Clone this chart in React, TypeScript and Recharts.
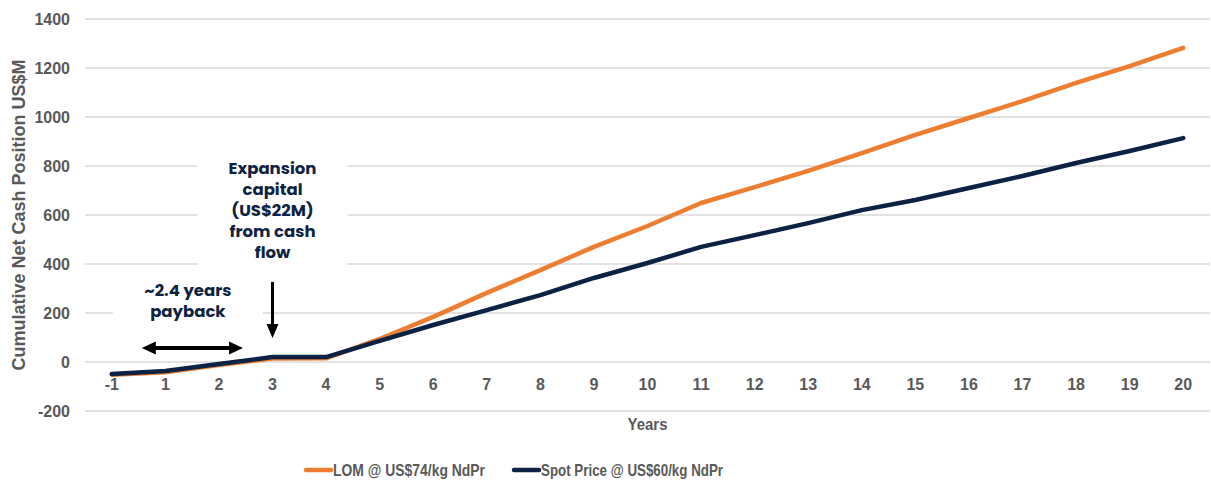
import React from "react";
import {
  LineChart,
  Line,
  XAxis,
  YAxis,
  CartesianGrid,
  Legend,
  ReferenceLine,
  ReferenceDot,
  Label,
} from "recharts";

const years = ["-1", "1", "2", "3", "4", "5", "6", "7", "8", "9", "10", "11", "12", "13", "14", "15", "16", "17", "18", "19", "20"];
const lomValues = [-52, -42, -12, 14, 15, 94, 184, 282, 375, 470, 555, 649, 714, 780, 853, 927, 996, 1065, 1139, 1208, 1282];
const spotValues = [-49, -37, -8, 20, 20, 86, 151, 212, 273, 343, 404, 470, 518, 567, 620, 661, 710, 759, 812, 861, 914];
const yTicks = [-200, 0, 200, 400, 600, 800, 1000, 1200, 1400];

const LOM_NAME = "LOM @ US$74/kg NdPr";
const SPOT_NAME = "Spot Price @ US$60/kg NdPr";
const ORANGE = "#ED7D31";
const NAVY = "#0B2244";
const GRAY = "#595959";
const ANNOT = "#0E2341";

const data = years.map((y, i) => ({ idx: i, year: y, lom: lomValues[i], spot: spotValues[i] }));
const xTicks = years.map((_, i) => i);

const tickFont = "'Liberation Sans', Arial, sans-serif";
const annotFont = "Poppins, 'Inter', 'Noto Sans', sans-serif";

const XTick = (props: any) => {
  const { x, y, payload } = props;
  return (
    <text x={x} y={y - 27} textAnchor="middle" dominantBaseline="central" fill={GRAY} fontFamily={tickFont} fontWeight="bold" fontSize={16}>
      {years[payload.value]}
    </text>
  );
};

const TextBlock = (lines: string[], w: number, h: number, lh: number) => (props: any) => {
  const { cx, cy } = props;
  const startY = cy - ((lines.length - 1) * lh) / 2;
  return (
    <g>
      <rect x={cx - w / 2} y={cy - h / 2} width={w} height={h} fill="#ffffff" />
      {lines.map((l, i) => (
        <text key={i} x={cx} y={startY + i * lh} textAnchor="middle" dominantBaseline="central" fill={ANNOT} fontFamily={annotFont} fontWeight="bold" fontSize={16.5}>
          {l}
        </text>
      ))}
    </g>
  );
};

const VArrow = (props: any) => {
  const { x1, y1, x2, y2 } = props;
  const head = 14;
  return (
    <g>
      <line x1={x1} y1={y1} x2={x2} y2={y2 - head + 2} stroke="#000" strokeWidth={3} />
      <polygon points={`${x2 - 6},${y2 - head} ${x2 + 6},${y2 - head} ${x2},${y2}`} fill="#000" />
    </g>
  );
};

const HArrow = (props: any) => {
  const { x1, y1, x2, y2 } = props;
  const head = 14;
  return (
    <g>
      <line x1={x1 + head - 2} y1={y1} x2={x2 - head + 2} y2={y2} stroke="#000" strokeWidth={4} />
      <polygon points={`${x1},${y1} ${x1 + head},${y1 - 6.5} ${x1 + head},${y1 + 6.5}`} fill="#000" />
      <polygon points={`${x2},${y2} ${x2 - head},${y2 - 6.5} ${x2 - head},${y2 + 6.5}`} fill="#000" />
    </g>
  );
};

const legendItems = [
  { name: LOM_NAME, color: ORANGE, lineX: 306, textX: 333, textW: 152 },
  { name: SPOT_NAME, color: NAVY, lineX: 514, textX: 541, textW: 182 },
];

const LegendContent = () => (
  <svg width={1211} height={24} style={{ display: "block" }}>
    {legendItems.map((it) => (
      <g key={it.name}>
        <line x1={it.lineX} y1={14} x2={it.lineX + 25} y2={14} stroke={it.color} strokeWidth={4.5} strokeLinecap="round" />
        <text x={it.textX} y={14} dominantBaseline="central" textLength={it.textW} lengthAdjust="spacingAndGlyphs" fill={GRAY} fontFamily={tickFont} fontWeight="bold" fontSize={17}>
          {it.name}
        </text>
      </g>
    ))}
  </svg>
);

export default function App() {
  return (
    <div style={{ position: "absolute", left: 0, top: 0, width: 1211, height: 481, background: "#fff" }}>
      <LineChart width={1211} height={481} data={data} margin={{ top: 19, right: 1, left: 0, bottom: 1 }}>
        <CartesianGrid vertical={false} stroke="#d9d9d9" strokeWidth={1.5} />
        <XAxis
          dataKey="idx"
          type="number"
          domain={[-0.5, 20.5]}
          ticks={xTicks}
          interval={0}
          axisLine={false}
          tickLine={false}
          tickSize={0}
          tickMargin={0}
          height={45}
          tick={<XTick />}
        >
          <Label
            content={(p: any) => {
              const vb = p.viewBox || {};
              const cx = (vb.x || 0) + (vb.width || 0) / 2;
              const cy = (vb.y || 0) + 13;
              return (
                <text x={cx} y={cy} textAnchor="middle" dominantBaseline="central" textLength={40} lengthAdjust="spacingAndGlyphs" fill={GRAY} fontFamily={tickFont} fontWeight="bold" fontSize={17}>
                  Years
                </text>
              );
            }}
          />
        </XAxis>
        <YAxis
          domain={[-200, 1400]}
          ticks={yTicks}
          width={85}
          axisLine={false}
          tickLine={false}
          tickSize={0}
          tickMargin={15}
          tick={{ fill: GRAY, fontFamily: tickFont, fontWeight: "bold", fontSize: 16 }}
        >
          <Label
            content={(p: any) => {
              const vb = p.viewBox || {};
              const cx = 18.5;
              const cy = (vb.y || 0) + (vb.height || 0) / 2;
              return (
                <text x={cx} y={cy} transform={`rotate(-90 ${cx} ${cy})`} textAnchor="middle" dominantBaseline="central" fill={GRAY} fontFamily={tickFont} fontWeight="bold" fontSize={18}>
                  Cumulative Net Cash Position US$M
                </text>
              );
            }}
          />
        </YAxis>
        <Legend verticalAlign="bottom" height={24} wrapperStyle={{ left: 0, width: 1211 }} content={<LegendContent />} />
        <ReferenceDot x={3} y={620} r={0} ifOverflow="visible" shape={TextBlock(["Expansion", "capital", "(US$22M)", "from cash", "flow"], 150, 120, 21)} />
        <ReferenceDot x={1.42} y={248} r={0} ifOverflow="visible" shape={TextBlock(["~2.4 years", "payback"], 150, 50, 21)} />
        <ReferenceLine segment={[{ x: 3, y: 327 }, { x: 3, y: 98 }]} ifOverflow="visible" shape={<VArrow />} />
        <ReferenceLine segment={[{ x: 0.56, y: 57 }, { x: 2.45, y: 57 }]} ifOverflow="visible" shape={<HArrow />} />
        <Line type="linear" dataKey="lom" name={LOM_NAME} stroke={ORANGE} strokeWidth={4.5} strokeLinecap="round" strokeLinejoin="round" dot={false} isAnimationActive={false} />
        <Line type="linear" dataKey="spot" name={SPOT_NAME} stroke={NAVY} strokeWidth={4.5} strokeLinecap="round" strokeLinejoin="round" dot={false} isAnimationActive={false} />
      </LineChart>
    </div>
  );
}
